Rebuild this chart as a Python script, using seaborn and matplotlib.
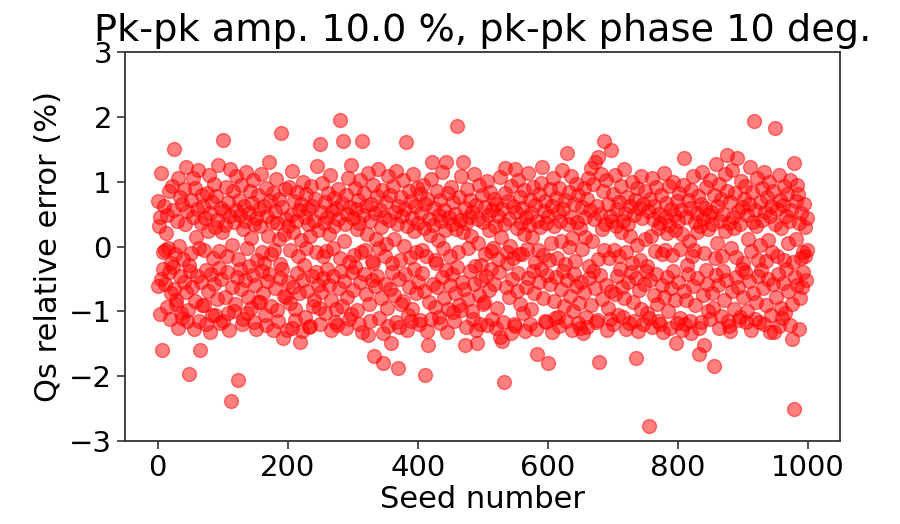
import numpy as np
import pandas as pd
import matplotlib
matplotlib.use("Agg")
import matplotlib.pyplot as plt
import seaborn as sns

# Qs relative error (%) per seed, in blocks of 100 seeds
err_000_099 = [
    0.70, -0.61, 0.32, -1.04, 0.45, 1.14, -0.50, -1.59, -0.08, -0.35,
    0.62, -0.05, -0.58, 0.21, -0.93, 0.48, -0.03, -0.40, 0.85, -1.12,
    -0.26, -0.72, 0.94, 0.57, -0.31, -0.66, 1.50, -0.12, -0.88, -0.83,
    0.40, 1.05, -1.25, 0.01, -0.45, 0.77, -1.02, 0.65, -1.10, -0.19,
    -0.54, 0.88, 0.35, -0.70, 1.22, -1.15, 0.55, -0.98, -1.96, -0.29,
    -0.38, 0.72, -0.10, -0.62, 0.46, 1.05, -1.27, 0.90, -0.84, 0.15,
    0.58, -0.46, 1.18, -0.03, -1.15, -1.60, 0.36, -0.55, 0.80, -0.90,
    0.63, -0.90, -0.05, 0.44, -0.36, -1.20, 0.82, 0.24, -0.68, 1.10,
    -1.31, 0.51, -0.42, 0.69, -1.05, -0.18, 0.96, -0.58, 0.30, -1.05,
    0.78, -0.81, 0.41, 1.25, -0.33, -0.07, -1.18, 0.60, -0.50, 0.22,
]
err_100_199 = [
    1.64, -1.14, 0.55, -0.77, 0.33, 0.92, -0.40, -0.14, -1.02, 0.68,
    -1.28, 0.47, 1.20, -2.38, 0.02, -0.63, 0.85, -0.99, 0.38, -0.88,
    0.56, 1.08, -0.47, -0.19, -2.05, 0.71, -0.35, 0.48, -0.66, 0.95,
    -1.19, 0.27, -1.12, 0.62, -0.52, 0.40, 1.15, -1.03, -0.03, -0.78,
    0.52, -0.30, 0.86, -0.95, 0.13, 0.67, -0.44, 1.02, -1.17, 0.34,
    -0.60, 0.44, -1.27, -0.21, 0.79, -0.86, 0.58, -0.85, 0.32, 1.12,
    -0.37, -0.09, -0.71, 0.63, -0.25, -1.05, 0.90, -1.21, 0.47, -0.53,
    0.16, 1.30, -0.43, 0.70, -0.12, -0.92, 0.38, 0.83, -1.29, -0.06,
    0.55, -0.64, 1.04, -0.98, 0.36, -1.15, 0.74, 0.12, -0.49, -0.27,
    1.75, -0.34, 0.61, -1.41, 0.19, -0.76, 0.88, 0.43, -0.78, -1.28,
]
err_200_299 = [
    0.31, -0.55, 0.92, -0.05, -0.87, 0.48, -1.26, 1.16, -0.63, 0.22,
    0.70, -1.13, -0.97, 0.39, 0.84, -0.41, -0.15, 0.57, -0.72, -1.47,
    0.10, 0.66, -1.30, 1.00, -0.52, -0.28, -1.08, 0.45, -0.02, 0.81,
    -0.68, 0.34, 0.58, -1.24, -1.22, 0.17, 0.93, -0.46, 0.62, -0.91,
    0.40, -0.83, 0.73, -0.08, -0.39, 1.24, -0.60, 0.26, -0.94, 1.58,
    -1.20, 0.53, -0.70, 0.98, -0.14, -0.48, 0.37, -1.02, 0.69, -0.07,
    0.46, -0.35, 0.82, -0.59, 0.20, 1.10, -1.28, -0.82, 0.55, -0.03,
    -0.45, 0.75, 0.31, -1.16, 0.60, -0.96, -1.21, 0.42, 0.88, -0.64,
    -0.18, 1.95, -0.38, 0.67, -0.91, 1.63, 0.09, -0.53, 0.35, 0.79,
    -1.25, 0.50, -0.77, 1.06, -0.24, -1.12, 0.61, -1.04, 1.26, -0.40,
]
err_300_399 = [
    0.44, -0.67, -0.13, 0.90, -0.31, 0.58, -0.98, 0.27, 0.71, -1.19,
    0.36, -0.55, 1.02, -0.08, 1.63, -1.31, 0.49, -0.42, 0.83, -0.06,
    -0.73, 0.62, 0.19, -1.36, 1.14, -0.88, 0.40, -1.14, 0.66, -0.51,
    -0.23, 0.95, -0.26, -1.69, 0.52, -0.61, 0.11, 0.78, -0.45, 1.20,
    -0.02, -1.10, 0.57, 0.30, -0.80, 0.87, -1.33, -1.79, 0.46, -0.15,
    -0.58, 0.69, 0.04, -0.95, 1.09, -1.22, 0.41, 0.80, -0.66, -1.49,
    -0.26, -0.39, 0.93, 0.12, -0.75, 0.54, 1.17, -1.17, 0.35, -1.87,
    0.62, -0.50, -1.24, -0.20, 0.76, -0.89, 0.47, -0.84, 1.03, 0.01,
    -0.43, 0.58, 1.61, -1.28, 0.32, -1.06, 0.85, -0.62, -0.16, 0.70,
    -1.15, 0.44, -0.97, 1.12, -0.35, 0.24, 0.63, -0.71, -0.08, 0.90,
]
err_400_499 = [
    -0.54, 0.37, -1.20, 0.81, -1.13, 0.52, -0.05, -0.41, 0.95, -0.68,
    0.29, 0.66, -1.98, -0.14, -1.30, 0.74, -1.52, 0.42, -0.86, 0.18,
    1.04, -1.12, 1.31, -0.57, 0.33, 0.60, -0.93, -0.21, -0.25, 0.86,
    -0.63, 0.10, 0.48, -1.09, 0.71, -1.18, 0.39, 1.15, -0.47, -0.02,
    0.57, -0.79, 0.25, 1.31, -0.36, -1.31, 0.83, -0.96, 0.45, -0.60,
    -0.15, 0.92, -0.43, 0.34, -1.01, 0.68, -1.15, 0.50, -0.72, 0.27,
    1.86, -0.32, -0.09, 0.77, -0.90, 0.41, -0.98, 1.08, -0.55, 1.31,
    0.22, -0.65, 0.59, -1.52, 0.36, -1.24, 0.88, -0.03, -0.81, 0.46,
    -0.37, 0.72, 0.17, -0.99, 0.54, -1.11, 1.12, -0.58, -0.30, -1.29,
    0.64, -1.48, 0.06, 0.43, -0.74, 0.95, -1.19, -0.28, -0.52, 0.79,
]
err_500_599 = [
    -0.88, 0.38, -0.86, 0.61, -0.12, -0.46, 1.01, -1.21, 0.49, -0.67,
    0.25, 0.84, -0.34, -0.07, -1.12, 0.56, -0.03, 0.73, -0.57, 0.31,
    -1.25, 0.66, -0.94, -0.19, 0.47, -0.40, 1.07, -1.39, 0.14, -1.46,
    0.58, -1.16, -2.09, 0.35, 0.82, 1.21, -0.62, -0.26, -0.09, 0.70,
    -0.78, 0.42, 0.01, -1.33, 0.93, -0.50, -0.18, 0.63, -1.19, 1.20,
    -1.22, 0.54, -0.69, 0.29, 1.03, -0.41, -0.11, 0.76, -0.88, 0.37,
    -0.12, 0.60, -1.03, 0.20, 0.87, -1.30, 0.45, -0.63, -0.04, 1.14,
    -0.49, 0.33, 0.71, -1.20, -0.97, 0.52, 0.15, -0.38, 0.92, -0.71,
    -0.24, 0.64, -1.27, -1.66, 0.40, -0.05, 0.81, -0.54, 0.30, 0.98,
    -0.35, 1.22, -0.80, -0.13, 0.55, -1.15, 0.70, -1.17, 0.36, -0.44,
]
err_600_699 = [
    0.47, -1.80, -0.21, 0.89, -0.58, 0.06, 0.62, -1.31, 1.06, -0.84,
    0.32, -1.10, 0.75, -0.47, -0.17, -1.08, 0.53, 0.90, -1.23, 0.40,
    -0.66, 0.09, 1.18, -0.37, 0.58, -0.92, -0.27, 0.72, -1.14, 1.44,
    -0.52, 0.35, -0.01, 0.84, -0.76, 0.46, 1.09, -1.29, 0.13, -1.00,
    0.66, -0.42, -0.22, 0.97, -0.61, 0.38, -1.18, 0.79, -0.87, -1.26,
    0.28, -0.55, 0.61, -0.04, -1.33, 0.90, -0.70, 0.45, 0.15, -1.09,
    0.73, -1.24, 1.05, -0.30, -0.48, 0.57, -0.90, 1.21, 0.08, -0.37,
    0.96, 0.42, -0.64, 1.30, -1.16, 0.62, -1.13, 1.38, -0.19, -1.78,
    0.50, -0.44, 1.12, 0.27, -0.81, 0.85, 1.62, -0.06, 0.34, -0.59,
    1.02, -1.28, 0.66, -0.95, -0.18, 0.47, -1.12, 1.49, -0.68, 0.39,
]
err_700_799 = [
    -1.20, 0.81, -0.05, -0.73, 1.10, 0.31, -0.46, 0.58, -1.05, -0.14,
    0.69, -0.35, 0.23, 0.94, -0.62, 0.40, -1.09, 1.19, -0.80, 0.52,
    -1.27, -0.08, 0.77, -0.55, 0.35, -1.18, 0.63, 0.17, -0.40, 1.00,
    -0.26, -0.86, 0.48, -1.14, 0.71, -0.49, -1.72, 0.90, 0.02, -1.30,
    0.59, -0.67, -0.20, 1.08, -0.96, 0.44, -1.19, 0.66, -0.58, 0.11,
    0.85, -0.37, -0.30, -1.02, 0.55, -1.10, -2.76, 0.74, -0.52, 0.16,
    1.05, -1.24, 0.42, -0.74, 0.62, -0.07, -0.43, 0.91, -0.89, 0.28,
    -1.15, 0.50, -1.20, 0.36, 0.79, -0.60, -0.12, -1.31, 1.13, -0.78,
    0.45, -0.06, 0.67, -0.47, 0.21, -0.99, 0.94, 0.33, -1.26, 0.58,
    -0.64, -0.13, 1.00, -0.38, 0.49, -0.83, 0.25, -1.48, 0.70, -1.18,
]
err_800_899 = [
    0.39, -0.55, 0.82, -0.04, -1.10, 0.57, -1.29, 0.19, 0.95, -0.68,
    1.37, -1.20, 0.46, -0.83, -0.28, 0.71, -0.42, 0.09, -1.14, 0.60,
    -1.33, 0.87, -0.15, -0.61, 1.09, -0.05, 0.38, -0.90, 0.52, 0.22,
    -0.48, 0.78, -1.26, -1.65, 0.31, 0.65, -1.17, 1.15, -0.74, 0.43,
    -1.52, -0.10, 0.59, -0.36, 0.92, -0.58, 0.27, -1.00, 0.48, 1.03,
    -1.12, 0.54, -0.71, 0.34, -0.95, 0.80, -1.84, -0.18, 1.27, -0.44,
    0.62, 0.05, -0.60, 0.97, -1.25, 0.40, -1.07, 0.73, -0.14, -0.38,
    0.50, -0.82, 1.12, 0.24, -0.52, 0.86, 1.41, -1.15, -1.22, 0.36,
    0.68, -1.30, -0.03, -0.69, 1.18, 0.45, -0.96, 0.29, 0.82, -0.47,
    -0.16, 1.37, -0.62, 0.55, -1.13, 0.34, -1.09, 1.01, -0.35, 0.61,
]
err_900_999 = [
    -0.78, -0.26, 0.74, -0.40, 0.93, -1.16, 0.49, -1.00, 0.12, 0.65,
    -0.53, 1.23, -0.07, -1.29, 0.84, -0.72, 0.38, 1.93, -1.11, 0.57,
    -0.86, 0.31, 1.05, -0.45, -0.20, -1.17, 0.68, 0.02, -0.36, 0.90,
    0.41, -0.64, 1.15, -1.19, 0.54, -0.90, -0.23, 0.77, -0.50, 0.10,
    1.00, -1.31, 0.47, -1.05, 0.63, -0.08, 0.86, -0.58, -1.32, 1.83,
    0.35, -0.77, 0.58, -0.14, -0.42, 1.10, -1.23, 0.72, -0.95, 0.29,
    -1.10, 0.64, -0.56, 0.93, -0.20, -1.03, 0.47, -0.34, 0.81, 0.05,
    -0.68, 0.39, 1.02, -1.21, 0.56, -0.88, -1.43, -0.24, -2.51, 1.28,
    -0.47, 0.70, 0.11, -0.60, 0.95, 0.81, -1.27, 0.36, -0.79, -0.18,
    0.52, -0.62, -0.08, -0.39, 0.66, -0.15, 0.30, -0.52, 0.44, -0.05,
]

y_ticks = [-3, -2, -1, 0, 1, 2, 3]
x_ticks = [0, 200, 400, 600, 800, 1000]

rel_err = np.concatenate([
    err_000_099, err_100_199, err_200_299, err_300_399, err_400_499,
    err_500_599, err_600_699, err_700_799, err_800_899, err_900_999,
])
df = pd.DataFrame({"seed": np.arange(len(rel_err)), "err": rel_err})

sns.set_style("ticks")
plt.rcParams["font.family"] = ["DejaVu Sans"]
plt.rcParams["text.color"] = "black"
plt.rcParams["axes.labelcolor"] = "black"
plt.rcParams["xtick.color"] = "black"
plt.rcParams["ytick.color"] = "black"

fig = plt.figure(figsize=(9.0, 5.24), dpi=100)
ax = fig.add_axes([0.139, 0.158, 0.794, 0.743])

sns.scatterplot(data=df, x="seed", y="err", ax=ax, color="red",
                alpha=0.5, s=100, edgecolor="red", linewidth=1.0)

ax.set_ylim(-3, 3)
ax.set_yticks(y_ticks)
ax.set_xticks(x_ticks)
ax.margins(x=0.05)
ax.tick_params(labelsize=21, length=6, width=1.2, color="#333333")
for sp in ax.spines.values():
    sp.set_visible(True)
    sp.set_color("#333333")
    sp.set_linewidth(1.3)

ax.set_xlabel("Seed number", fontsize=22, labelpad=2)
ax.set_ylabel("Qs relative error (%)", fontsize=22, labelpad=4)
ax.set_title("Pk-pk amp. 10.0 %, pk-pk phase 10 deg.", fontsize=27.5,
             pad=8, color="black")

fig.savefig("out.png", dpi=100, facecolor="white")
